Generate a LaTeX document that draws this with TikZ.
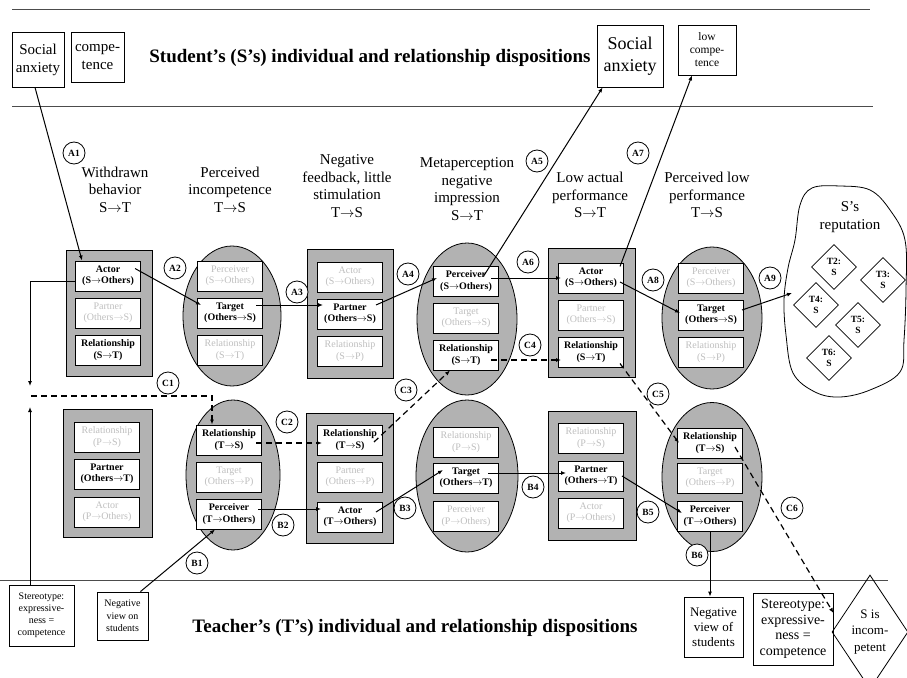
\documentclass[tikz,border=0pt]{standalone}
\usepackage{fontspec}
\setmainfont{Liberation Serif}
\usetikzlibrary{arrows.meta,shapes.geometric}
\begin{document}
\begin{tikzpicture}[x=1pt,y=-1pt,>={Latex[length=5pt,width=4pt]},
    stage/.style={draw,fill=gray!60,line width=0.8pt},
    cell/.style={draw,fill=white,line width=1pt,minimum width=65pt,minimum height=30pt,inner sep=1pt,align=center,font=\fontsize{10}{11.5}\selectfont\bfseries},
    faint/.style={cell,text=gray!50,font=\fontsize{10}{11.5}\selectfont},
    tag/.style={draw,circle,fill=white,line width=0.8pt,minimum size=22pt,inner sep=0pt,font=\fontsize{9.5}{10}\selectfont\bfseries},
    head/.style={align=center,font=\fontsize{15}{17.5}\selectfont},
    disp/.style={draw,line width=0.8pt,align=center,inner sep=1pt},
    tdiam/.style={draw,diamond,line width=0.8pt,minimum width=45pt,minimum height=45pt,inner sep=0pt,align=center,font=\fontsize{9.5}{11}\selectfont\bfseries},
    link/.style={->,line width=1pt},
    dlink/.style={->,line width=1.2pt,dash pattern=on 6pt off 4pt}]
\path[use as bounding box,fill=white] (0,0) rectangle (907,677);

% dividers
\draw[line width=1pt,gray!60!black] (12,10) -- (870,10);
\draw[line width=1pt,gray!60!black] (12,106) -- (873,106);
\draw[line width=1pt,gray!60!black] (0,580) -- (888,580);

% student dispositions
\node[disp,minimum width=52pt,minimum height=55pt,font=\fontsize{15}{18}\selectfont] (anxS) at (38,59.5) {Social\\anxiety};
\node[disp,minimum width=53pt,minimum height=50pt,font=\fontsize{15}{18}\selectfont] (compS) at (97.5,57) {compe-\\tence};
\node[font=\fontsize{19}{22}\selectfont\bfseries] (titleS) at (370,58) {Student's (S's) individual and relationship dispositions};
\node[disp,minimum width=66pt,minimum height=62pt,font=\fontsize{18}{22}\selectfont] (anxT) at (630,56) {Social\\anxiety};
\node[disp,minimum width=58pt,minimum height=50pt,font=\fontsize{11.5}{13}\selectfont] (lowcomp) at (707,50) {low\\compe-\\tence};

% headings
\node[head] (h1) at (115,189.5) {Withdrawn\\behavior\\S$\to$T};
\node[head] (h2) at (230,189.5) {Perceived\\incompetence\\T$\to$S};
\node[head] (h3) at (347,186) {Negative\\feedback, little\\stimulation\\T$\to$S};
\node[head] (h4) at (467,189) {Metaperception\\negative\\impression\\S$\to$T};
\node[head] (h5) at (590,195) {Low actual\\performance\\S$\to$T};
\node[head] (h6) at (707,195) {Perceived low\\performance\\T$\to$S};

% student row
\node[stage,minimum width=86pt,minimum height=126pt] (s1) at (109,313) {};
\node[stage,ellipse,minimum width=98pt,minimum height=140pt] (s2) at (232,316) {};
\node[stage,minimum width=86pt,minimum height=129pt] (s3) at (350,314) {};
\node[stage,ellipse,minimum width=100pt,minimum height=152pt] (s4) at (467,319) {};
\node[stage,minimum width=87pt,minimum height=129pt] (s5) at (592,313) {};
\node[stage,ellipse,minimum width=100pt,minimum height=142pt] (s6) at (712,318) {};

\node[cell] (s1a) at (108,276) {Actor\\(S$\to$Others)};
\node[faint] (s1b) at (108,313) {Partner\\(Others$\to$S)};
\node[cell] (s1c) at (108,350) {Relationship\\(S$\to$T)};
\node[faint] (s2a) at (230,276) {Perceiver\\(S$\to$Others)};
\node[cell] (s2b) at (230,313) {Target\\(Others$\to$S)};
\node[faint] (s2c) at (230,350) {Relationship\\(S$\to$T)};
\node[faint] (s3a) at (350,277) {Actor\\(S$\to$Others)};
\node[cell] (s3b) at (350,314) {Partner\\(Others$\to$S)};
\node[faint] (s3c) at (350,351) {Relationship\\(S$\to$P)};
\node[cell] (s4a) at (466,281) {Perceiver\\(S$\to$Others)};
\node[faint] (s4b) at (466,318) {Target\\(Others$\to$S)};
\node[cell] (s4c) at (466,355) {Relationship\\(S$\to$T)};
\node[cell] (s5a) at (591,278) {Actor\\(S$\to$Others)};
\node[faint] (s5b) at (591,315) {Partner\\(Others$\to$S)};
\node[cell] (s5c) at (591,352) {Relationship\\(S$\to$T)};
\node[faint] (s6a) at (711,278) {Perceiver\\(S$\to$Others)};
\node[cell] (s6b) at (711,315) {Target\\(Others$\to$S)};
\node[faint] (s6c) at (711,352) {Relationship\\(S$\to$P)};

% teacher row
\node[stage,minimum width=89pt,minimum height=128pt] (t1) at (108,473) {};
\node[stage,ellipse,minimum width=94pt,minimum height=150pt] (t2) at (233,475) {};
\node[stage,minimum width=87pt,minimum height=130pt] (t3) at (350,478) {};
\node[stage,ellipse,minimum width=102pt,minimum height=152pt] (t4) at (467,476) {};
\node[stage,minimum width=88pt,minimum height=129pt] (t5) at (592,476) {};
\node[stage,ellipse,minimum width=100pt,minimum height=149pt] (t6) at (712,477) {};

\node[faint] (t1a) at (107,437) {Relationship\\(P$\to$S)};
\node[cell] (t1b) at (107,474) {Partner\\(Others$\to$T)};
\node[faint] (t1c) at (107,512) {Actor\\(P$\to$Others)};
\node[cell] (t2a) at (229,440) {Relationship\\(T$\to$S)};
\node[faint] (t2b) at (229,477) {Target\\(Others$\to$P)};
\node[cell] (t2c) at (229,514) {Perceiver\\(T$\to$Others)};
\node[cell] (t3a) at (350,440) {Relationship\\(T$\to$S)};
\node[faint] (t3b) at (350,477) {Partner\\(Others$\to$P)};
\node[cell] (t3c) at (350,517) {Actor\\(T$\to$Others)};
\node[faint] (t4a) at (466,442) {Relationship\\(P$\to$S)};
\node[cell] (t4b) at (466,478) {Target\\(Others$\to$T)};
\node[faint] (t4c) at (466,516) {Perceiver\\(P$\to$Others)};
\node[faint] (t5a) at (591,438) {Relationship\\(P$\to$S)};
\node[cell] (t5b) at (591,476) {Partner\\(Others$\to$T)};
\node[faint] (t5c) at (591,513) {Actor\\(P$\to$Others)};
\node[cell] (t6a) at (710,443) {Relationship\\(T$\to$S)};
\node[faint] (t6b) at (710,478) {Target\\(Others$\to$P)};
\node[cell] (t6c) at (710,516) {Perceiver\\(T$\to$Others)};

% reputation
\draw[line width=0.8pt] plot[smooth cycle,tension=0.6] coordinates {(800,205) (812,188) (840,186) (870,190) (890,210) (905,240) (906,290) (904,340) (900,372) (870,390) (840,397) (815,392) (793,373) (786,335) (784,300) (788,268) (795,240)};
\node[font=\fontsize{15}{18}\selectfont,align=center] (rep) at (850,217) {S's\\reputation};
\node[tdiam] (td2) at (834,267) {T2:\\S};
\node[tdiam] (td3) at (883,280) {T3:\\S};
\node[tdiam] (td4) at (816,305) {T4:\\S};
\node[tdiam] (td5) at (858,325) {T5:\\S};
\node[tdiam] (td6) at (829,358) {T6:\\S};
\coordinate (repin) at (792,293);

% teacher dispositions
\node[disp,minimum width=65pt,minimum height=61pt,font=\fontsize{10}{12}\selectfont] (stereoL) at (41.5,615.5) {Stereotype:\\expressive-\\ness =\\competence};
\node[disp,minimum width=51pt,minimum height=48pt,font=\fontsize{10}{12.5}\selectfont] (negL) at (122.5,616) {Negative\\view on\\students};
\node[font=\fontsize{19}{22}\selectfont\bfseries] (titleT) at (415,628) {Teacher's (T's) individual and relationship dispositions};
\node[disp,minimum width=59pt,minimum height=60pt,font=\fontsize{13}{15}\selectfont] (negR) at (713.5,627) {Negative\\view of\\students};
\node[disp,minimum width=80pt,minimum height=72pt,font=\fontsize{14}{15.5}\selectfont] (stereoR) at (793,629) {Stereotype:\\expressive-\\ness =\\competence};
\node[draw,diamond,aspect=0.65,line width=0.8pt,minimum width=76pt,minimum height=114pt,inner sep=0pt,align=center,font=\fontsize{13}{16.5}\selectfont] (incomp) at (870,632) {S is\\incom-\\petent};

\coordinate (loopS) at (30,386);
\coordinate (loopT) at (30,407);
\coordinate (c1in) at (31,396);

% A path
\draw[link] ([xshift=-3pt]anxS.south) -- ([xshift=7pt]s1a.north west);
\draw[link] ([xshift=-6pt,yshift=-8pt]s1a.north east) -- ([xshift=4pt,yshift=8pt]s2b.west);
\draw[link] ([xshift=-7pt,yshift=8pt]s2b.east) -- ([xshift=6pt,yshift=9pt]s3b.west);
\draw[link] ([xshift=-7pt,yshift=9pt]s3b.east) -- ([xshift=4pt,yshift=3pt]s4a.west);
\draw[link] ([xshift=-15pt,yshift=-10pt]s4a.north east) -- ([xshift=6pt]anxT.south west);
\draw[link] ([xshift=-8pt]s4a.east |- s5a.west) -- ([xshift=3pt]s5a.west);
\draw[link] ([xshift=-4pt,yshift=-4pt]s5a.north east) -- ([xshift=-15pt]lowcomp.south);
\draw[link] ([xshift=-4pt,yshift=-4pt]s5a.east) -- ([xshift=2pt,yshift=2pt]s6b.west);
\draw[link] ([xshift=-2pt,yshift=5pt]s6b.east) -- (repin);

% B path
\draw[link] ([xshift=-8pt]negL.north east) -- ([xshift=-14pt]t2c.south);
\draw[link] ([xshift=-4pt,yshift=5pt]t2c.east) -- ([xshift=4pt,yshift=8pt]t3c.west);
\draw[link] ([xshift=-7pt,yshift=5pt]t3c.east) -- ([xshift=10pt,yshift=8pt]t4b.west);
\draw[link] ([xshift=-11pt,yshift=5pt]t4b.east) -- ([xshift=8pt,yshift=3pt]t5b.west);
\draw[link] ([xshift=-2pt]t5b.east) -- ([xshift=5pt,yshift=3pt]t6c.west);
\draw[link] (t6c.south) -- (t6c.south |- negR.north);

% C path
\draw[link] ([yshift=-5pt]s1a.west) -| (loopS);
\draw[link] (stereoL.north -| loopT) -- (loopT);
\draw[dlink] (c1in) -| ([xshift=16pt]t2a.north west);
\draw[dlink] ([xshift=-6pt,yshift=-3pt]t2a.east) -- ([xshift=5pt,yshift=-3pt]t3a.west);
\draw[dlink] ([xshift=-9pt,yshift=-2pt]t3a.east) -- ([xshift=-16pt]s4c.south);
\draw[dlink] ([xshift=-8pt,yshift=-5pt]s4c.east) -- ([xshift=3pt,yshift=-8pt]s5c.west);
\draw[dlink] ([xshift=-4pt,yshift=4pt]s5c.south east) -- ([xshift=2pt]t6a.west);
\draw[dlink] ([xshift=-8pt,yshift=-4pt]t6a.east) -- ([yshift=16pt]stereoR.east);

% labels
\node[tag] (A1) at (74,153) {A1};
\node[tag] (A2) at (175,268) {A2};
\node[tag] (A3) at (297,292) {A3};
\node[tag] (A4) at (408,274) {A4};
\node[tag] (A5) at (537,161) {A5};
\node[tag] (A6) at (528,262) {A6};
\node[tag] (A7) at (638,153) {A7};
\node[tag] (A8) at (653,280) {A8};
\node[tag] (A9) at (770,278) {A9};
\node[tag] (B1) at (197,563) {B1};
\node[tag] (B2) at (283,525) {B2};
\node[tag] (B3) at (405,508) {B3};
\node[tag] (B4) at (533,487) {B4};
\node[tag] (B5) at (648,512) {B5};
\node[tag] (B6) at (697,555) {B6};
\node[tag] (C1) at (168,383) {C1};
\node[tag] (C2) at (287,422) {C2};
\node[tag] (C3) at (406,390) {C3};
\node[tag] (C4) at (530,345) {C4};
\node[tag] (C5) at (658,394) {C5};
\node[tag] (C6) at (792,508) {C6};
\end{tikzpicture}
\end{document}
